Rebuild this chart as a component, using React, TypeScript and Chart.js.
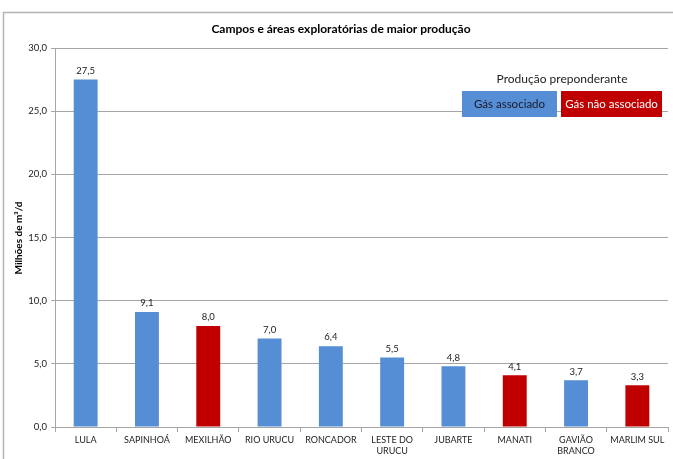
import React, { useEffect, useRef } from "react";
import { Chart, registerables } from "chart.js";

Chart.register(...registerables);

const categories: (string | string[])[] = [
  "LULA",
  "SAPINHOÁ",
  "MEXILHÃO",
  "RIO URUCU",
  "RONCADOR",
  ["LESTE DO", "URUCU"],
  "JUBARTE",
  "MANATI",
  ["GAVIÃO", "BRANCO"],
  "MARLIM SUL",
];
const values = [27.5, 9.1, 8.0, 7.0, 6.4, 5.5, 4.8, 4.1, 3.7, 3.3];
const gasType = ["a", "a", "n", "a", "a", "a", "a", "n", "a", "n"];
const yTicks = [0, 5, 10, 15, 20, 25, 30];

const title = "Campos e áreas exploratórias de maior produção";
const yTitle = "Milhões de m³/d";
const legendTitle = "Produção preponderante";
const legendLabels = ["Gás associado", "Gás não associado"];

const BLUE = "#558ED5";
const RED = "#C00000";
const FONT = "Lato, 'Open Sans', sans-serif";

const fmt = (v: number) => v.toFixed(1).replace(".", ",");

export default function App() {
  const ref = useRef<HTMLCanvasElement>(null);
  useEffect(() => {
    document.body.style.margin = "0";
    const decor = {
      id: "decor",
      beforeDraw(chart: any) {
        const ctx = chart.ctx;
        ctx.save();
        ctx.fillStyle = "#fff";
        ctx.fillRect(0, 0, chart.width, chart.height);
        ctx.strokeStyle = "#b4b4b4";
        ctx.lineWidth = 1.5;
        ctx.strokeRect(3.5, 12.5, 760, 600);
        ctx.restore();
      },
      afterDraw(chart: any) {
        const ctx = chart.ctx;
        ctx.save();
        // title
        ctx.fillStyle = "#000";
        ctx.font = `bold 12px ${FONT}`;
        ctx.textAlign = "center";
        ctx.textBaseline = "middle";
        ctx.fillText(title, 341, 29);
        // y title
        ctx.save();
        ctx.translate(19, 238);
        ctx.rotate(-Math.PI / 2);
        ctx.font = `bold 10px ${FONT}`;
        ctx.fillText(yTitle, 0, 0);
        ctx.restore();
        // data labels
        const meta = chart.getDatasetMeta(0);
        ctx.font = `9.5px ${FONT}`;
        ctx.fillStyle = "#222";
        ctx.textBaseline = "bottom";
        meta.data.forEach((bar: any, i: number) => {
          ctx.fillText(fmt(values[i]), bar.x, bar.y - 4);
        });
        // legend
        ctx.textBaseline = "middle";
        ctx.font = `12px ${FONT}`;
        ctx.fillStyle = "#222";
        ctx.fillText(legendTitle, 562, 79);
        ctx.fillStyle = BLUE;
        ctx.fillRect(462, 91, 95, 26);
        ctx.fillStyle = RED;
        ctx.fillRect(561, 91, 101, 26);
        ctx.font = `11.5px ${FONT}`;
        ctx.fillStyle = "#1a1a2a";
        ctx.fillText(legendLabels[0], 509.5, 104);
        ctx.fillStyle = "#fff";
        ctx.fillText(legendLabels[1], 611.5, 104);
        ctx.restore();
      },
    };
    const chart = new Chart(ref.current!, {
      type: "bar",
      data: {
        labels: categories,
        datasets: [
          {
            data: values,
            backgroundColor: gasType.map((t) => (t === "a" ? BLUE : RED)),
            barPercentage: 0.39,
            categoryPercentage: 1,
          },
        ],
      },
      options: {
        animation: false,
        responsive: false,
        devicePixelRatio: 1,
        layout: { padding: { left: 0, top: 48, right: 5, bottom: 0 } },
        plugins: {
          legend: { display: false },
          title: { display: false },
          tooltip: { enabled: false },
        },
        scales: {
          x: {
            afterFit: (s: any) => {
              s.height = 32;
            },
            grid: {
              offset: true,
              drawOnChartArea: false,
              drawTicks: true,
              tickLength: 5,
              color: "#a6a6a6",
            },
            border: { color: "#a6a6a6", width: 1 },
            ticks: {
              color: "#222",
              font: { family: FONT, size: 9 },
              padding: 3,
              maxRotation: 0,
              autoSkip: false,
            },
          },
          y: {
            min: 0,
            max: 30,
            afterFit: (s: any) => {
              s.width = 55;
            },
            afterBuildTicks: (s: any) => {
              s.ticks = yTicks.map((v) => ({ value: v }));
            },
            grid: { color: "#a6a6a6", tickLength: 4, lineWidth: 1 },
            border: { color: "#a6a6a6", width: 1 },
            ticks: {
              color: "#222",
              font: { family: FONT, size: 9.5 },
              padding: 4,
              callback: (v: any) => fmt(Number(v)),
            },
          },
        },
      },
      plugins: [decor],
    });
    return () => chart.destroy();
  }, []);
  return (
    <div style={{ position: "fixed", left: 0, top: 0, width: 673, height: 459 }}>
      <canvas ref={ref} width={673} height={459} style={{ width: 673, height: 459 }} />
    </div>
  );
}
